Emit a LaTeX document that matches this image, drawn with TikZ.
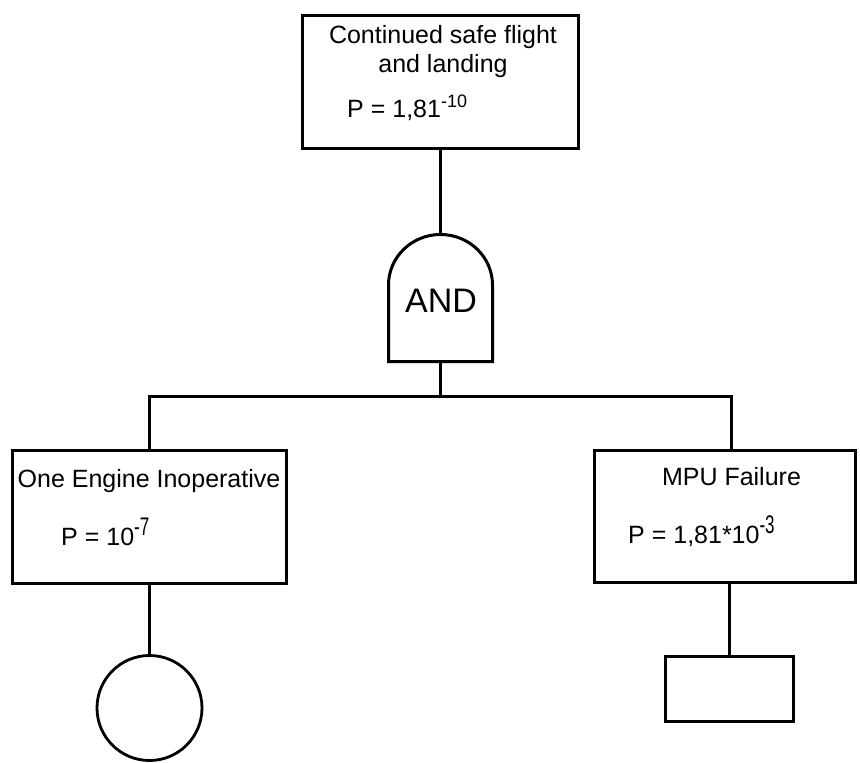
\documentclass[tikz,border=0pt]{standalone}
\usepackage{fontspec}
\setmainfont{Liberation Sans}
% exponents: plain small one, and a tall narrow one
\newcommand\expsm[1]{\raisebox{10pt}{\fontsize{18}{18}\selectfont #1}}
\newcommand\exptall[1]{\raisebox{9.5pt}{\scalebox{1}[1.5]{\fontsize{17}{17}\selectfont #1}}}
\begin{document}
\begin{tikzpicture}[x=1pt,y=-1pt,
  wire/.style={line width=3pt},
  box/.style={draw, line width=3pt, inner sep=0pt, fill=white},
  lbl/.style={inner sep=0pt, font=\fontsize{25}{29}\selectfont},
  gatelbl/.style={inner sep=0pt, font=\fontsize{34}{34}\selectfont}]
\useasboundingbox (0,0) rectangle (860,763);

% event boxes
\node[box, minimum width=276pt, minimum height=133pt] (top) at (440.5,82) {};
\node[box, minimum width=274pt, minimum height=133pt] (left) at (149.5,517) {};
\node[box, minimum width=261pt, minimum height=132pt] (right) at (725,516.5) {};

% basic event (circle) and undeveloped event (rectangle)
\node[draw, circle, line width=2.8pt, inner sep=0pt, minimum size=105pt] (circ) at (149.5,708) {};
\node[box, minimum width=128pt, minimum height=65pt] (rect) at (729.5,689) {};

% AND gate
\coordinate (gtop) at (440.5,234.5);
\coordinate (gbot) at (440.5,362);
\coordinate (bus) at (440.5,396.5);
\coordinate (rtap) at (731.5,450.5);
\draw[wire, line join=miter] (388.5,361.5) -- (388.5,285)
  arc[start angle=180, end angle=0, x radius=52pt, y radius=50.5pt]
  -- (492.5,361.5) -- cycle;
\node[gatelbl, anchor=base] (gate) at (441,312) {AND};

% labels
\node[lbl, anchor=base] (t1) at (443,43) {Continued safe flight};
\node[lbl, anchor=base] (t2) at (443,72) {and landing};
\node[lbl, anchor=base west] (tp) at (347,117) {P = 1,81\expsm{-10}};

\node[lbl, anchor=base] (l1) at (149,487) {One Engine Inoperative};
\node[lbl, anchor=base west] (lp) at (61,545) {P = 10\exptall{-7}};

\node[lbl, anchor=base] (r1) at (731.5,485) {MPU Failure};
\node[lbl, anchor=base west] (rp) at (628,543) {P = 1,81*10\exptall{-3}};

% connectors
\draw[wire] (top.south) -- (gtop);
\draw[wire] (gbot) -- (bus);
\draw[wire] (left.north) |- (bus) -| (rtap);
\draw[wire] (left.south) -- (circ.north);
\draw[wire] (right.south -| rect.north) -- (rect.north);
\end{tikzpicture}
\end{document}
